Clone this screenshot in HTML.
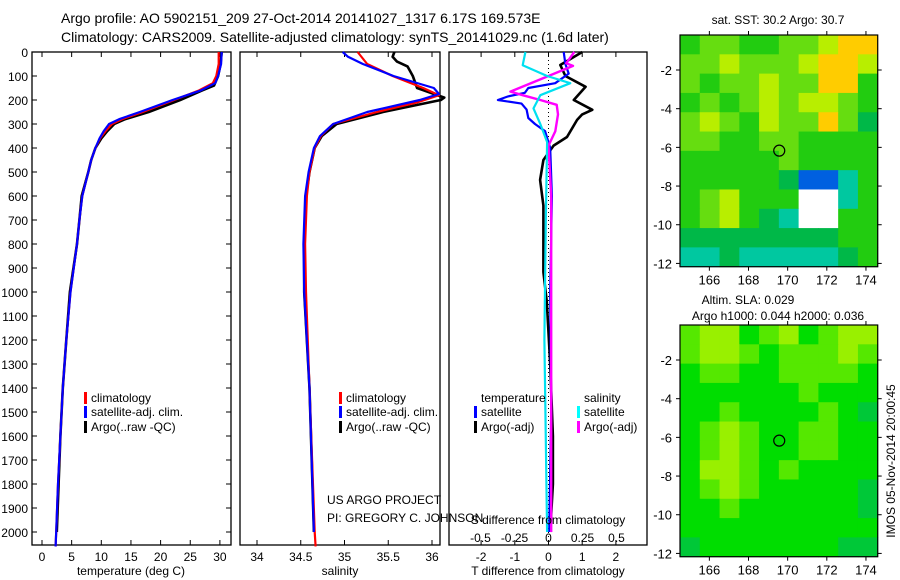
<!DOCTYPE html>
<html><head><meta charset="utf-8">
<style>
html,body{margin:0;padding:0;background:#fff;}
svg{display:block;font-family:"Liberation Sans",sans-serif;}
</style></head>
<body>
<svg id="fig" width="900" height="580" viewBox="0 0 900 580" xmlns="http://www.w3.org/2000/svg">
<text x="61" y="23" font-size="14">Argo profile: AO 5902151_209 27-Oct-2014 20141027_1317 6.17S 169.573E</text>
<text x="61" y="42" font-size="14">Climatology: CARS2009. Satellite-adjusted climatology: synTS_20141029.nc (1.6d later)</text>
<g id="g"></g>
</svg>
<script>
// ---------- data ----------
const tDepth=[0,50,100,140,160,200,250,280,300,330,360,400,450,500,600,700,800,1000,1200,1400,1600,1800,2000];
const tArgo=[30.3,30.1,29.7,29.0,27.0,23.3,18.0,14.0,12.2,11.0,10.0,9.0,8.3,7.8,6.7,6.3,5.9,4.7,4.1,3.5,3.1,2.8,2.5];
const clDepth=[0,50,100,130,160,200,250,280,300,330,360,400,450,500,600,700,800,1000,1200,1400,1600,1800,2000,2060];
const tClim=[29.8,29.8,29.4,28.8,26.5,22.3,17.0,13.5,11.8,10.7,9.8,9.0,8.3,7.8,6.8,6.3,5.9,4.8,4.1,3.5,3.1,2.7,2.4,2.3];
const tSat=[30.3,30.2,29.7,29.2,26.8,22.0,16.5,13.0,11.3,10.4,9.7,9.0,8.3,7.8,6.8,6.3,5.9,4.8,4.1,3.5,3.1,2.7,2.4,2.3];
const sArgoDepth=[0,20,40,60,100,150,190,200,250,300,350,400,500,600,800,1000,1400,2000];
const sArgo=[35.57,35.55,35.6,35.72,35.78,35.83,36.14,36.1,35.44,34.91,34.74,34.66,34.6,34.56,34.54,34.54,34.6,34.65];
const sClimDepth=[0,50,100,150,180,210,250,300,350,400,500,600,800,1000,1400,2000,2060];
const sClim=[35.15,35.26,35.55,35.9,36.08,35.83,35.37,34.87,34.73,34.66,34.6,34.57,34.55,34.56,34.6,34.66,34.67];
const sSatDepth=[0,20,50,100,150,175,200,250,300,350,400,500,600,800,1000,1400,2000];
const sSat=[34.98,35.04,35.21,35.56,36.02,36.08,35.86,35.26,34.87,34.72,34.65,34.59,34.55,34.53,34.54,34.6,34.65];
const dTSatDepth=[0,50,90,130,150,170,185,200,215,240,275,300,330,400,600,1000,1500,2000];
const dTSat=[0.45,0.5,0.6,0.2,-0.6,-0.7,-1.2,-1.5,-0.8,-0.65,-0.6,-0.4,-0.1,0.05,0.1,0.05,0.08,0.02];
const dTArgoDepth=[0,54,100,145,200,241,260,283,354,390,450,533,640,917,1040,1300,1600,1800,2000];
const dTArgo=[1.0,0.35,0.5,1.1,0.75,1.3,1.0,0.85,0.55,0.15,-0.15,-0.25,-0.15,-0.15,-0.05,0.05,0.13,0.13,0.05];
const dSArgoDepth=[0,47,58,100,165,180,200,220,260,330,390,600,1000,1500,2000];
const dSArgo=[0.19,0.13,0.18,0.0,-0.28,-0.19,-0.06,0.06,0.07,0.05,0.0,0.02,0.02,0.02,0.02];
const dSSatDepth=[0,55,100,130,180,235,300,375,700,1200,2000];
const dSSat=[-0.17,-0.19,-0.01,0.16,-0.06,-0.11,-0.06,-0.01,-0.02,-0.03,-0.01];
const depthTicks=[0,100,200,300,400,500,600,700,800,900,1000,1100,1200,1300,1400,1500,1600,1700,1800,1900,2000];
const tTicks=[0,5,10,15,20,25,30];
const sTicks=[34,34.5,35,35.5,36];
const sTickLabels=["34","34.5","35","35.5","36"];
const dTTicks=[-2,-1,0,1,2];
const dSTicks=[-0.5,-0.25,0,0.25,0.5];
const dSTickLabels=["-0.5","-0.25","0","0.25","0.5"];
const lonTicks=[166,168,170,172,174];
const latTicks=[-2,-4,-6,-8,-10,-12];
const argoLon=169.57, argoLat=-6.17;
const sstGrid=[
[1,2,2,1,1,2,2,3,4,4],[2,2,3,2,2,2,3,4,4,3],[2,1,2,2,3,2,2,4,4,1],[1,2,1,2,3,2,3,3,2,1],
[2,3,2,1,3,2,2,4,2,0],[2,2,1,1,2,2,1,1,1,1],[1,1,1,1,1,2,1,1,1,1],[1,1,1,1,1,0,7,7,5,1],
[1,2,3,1,1,1,8,8,5,1],[1,2,3,1,0,5,8,8,1,1],[0,0,0,0,0,0,0,0,1,1],[5,5,0,5,5,5,5,5,0,1]];
const slaGrid=[
[2,3,3,1,2,3,1,2,3,3],[2,3,3,2,1,2,2,2,3,2],[1,2,2,1,1,2,2,2,2,1],[1,1,1,1,1,1,2,1,1,1],
[1,1,2,1,1,1,1,2,1,0],[1,2,3,2,1,1,2,2,1,1],[1,2,3,2,1,1,2,2,1,1],[1,3,3,2,1,2,1,1,1,1],
[1,2,3,2,1,1,1,1,1,0],[1,1,2,1,1,1,1,1,1,0],[1,1,1,1,1,1,1,1,1,1],[0,1,1,1,1,1,1,1,0,0]];
const sstColors=["#00b848","#22cc10","#66dd10","#b8ee00","#ffcc00","#00c8a0","#00d0d0","#0060e0","#ffffff"];
const slaColors=["#00c838","#00dd00","#55e800","#99f000","#c8ff00"];

// ---------- helpers ----------
const NS="http://www.w3.org/2000/svg";
const G=document.getElementById('g');
function el(tag,attrs,parent){const e=document.createElementNS(NS,tag);for(const k in attrs)e.setAttribute(k,attrs[k]);(parent||G).appendChild(e);return e;}
function txt(x,y,s,anchor,size,parent){const t=el('text',{x:x,y:y,'font-size':size||12,'text-anchor':anchor||'start'},parent);t.textContent=s;return t;}
const yTop=52, pxPerM=0.24;
function yD(d){return yTop+d*pxPerM;}
const yBot=545;
const P1={l:32,r:231}, P2={l:240,r:440}, P3={l:449,r:647};
function xT(v){return 42+v*5.93;}
function xS(v){return 257+(v-34)*87.5;}
function xDT(v){return 548.5+v*33.7;}
function xDS(v){return 548.5+v*136;}
function line(xs,ds,fx,color,name,w){
  const pts=xs.map((v,i)=>fx(v).toFixed(1)+','+yD(ds[i]).toFixed(1)).join(' ');
  const p=el('polyline',{points:pts,fill:'none',stroke:color,'stroke-width':w||2.2,'stroke-linejoin':'round'});
  
  
}
function frame(P,name){
  const r=el('rect',{x:P.l,y:yTop,width:P.r-P.l,height:yBot-yTop,fill:'none',stroke:'#000','stroke-width':1.3});
  
  
}
function xticks(P,vals,labels,fx,ly){
  vals.forEach((v,i)=>{const x=fx(v);
    el('line',{x1:x,x2:x,y1:yTop,y2:yTop+5,stroke:'#000'});
    el('line',{x1:x,x2:x,y1:yBot,y2:yBot-5,stroke:'#000'});
    const t=txt(x,ly,labels[i],'middle',12);
    
    
  });
}
function legendEntry(x,y,color,label){
  el('rect',{x:x,y:y-10,width:3,height:12,fill:color});
  const t=txt(x+7,y,label,'start',12);
  
  
}

// ---------- panel 1: temperature ----------
frame(P1,'temperature-panel');
depthTicks.forEach(d=>{const y=yD(d);
  el('line',{x1:P1.l,x2:P1.l+5,y1:y,y2:y,stroke:'#000'});
  el('line',{x1:P1.r,x2:P1.r-5,y1:y,y2:y,stroke:'#000'});
  const t=txt(28,y+5,String(d),'end',12);
  
  
});
xticks(P1,tTicks,tTicks.map(String),xT,561);
line(tArgo,tDepth,xT,'#000','argo-temperature-line',2.6);
line(tClim,clDepth,xT,'#ff0000','climatology-temperature-line');
line(tSat,clDepth,xT,'#0000ff','satellite-temperature-line');
legendEntry(84,402,'#ff0000','climatology');
legendEntry(84,416,'#0000ff','satellite-adj. clim.');
legendEntry(84,431,'#000','Argo(..raw -QC)');
txt(131,575,'temperature (deg C)','middle',12);

// ---------- panel 2: salinity ----------
frame(P2,'salinity-panel');
xticks(P2,sTicks,sTickLabels,xS,561);
line(sArgo,sArgoDepth,xS,'#000','argo-salinity-line',2.6);
line(sClim,sClimDepth,xS,'#ff0000','climatology-salinity-line');
line(sSat,sSatDepth,xS,'#0000ff','satellite-salinity-line');
legendEntry(339,402,'#ff0000','climatology');
legendEntry(339,416,'#0000ff','satellite-adj. clim.');
legendEntry(339,431,'#000','Argo(..raw -QC)');
txt(340,575,'salinity','middle',12);
txt(327,504,'US ARGO PROJECT','start',12);
txt(327,522,'PI: GREGORY C. JOHNSON','start',12);

// ---------- panel 3: differences ----------
frame(P3,'difference-panel');
el('line',{x1:xDT(0),x2:xDT(0),y1:yTop,y2:yBot,stroke:'#000','stroke-dasharray':'1,3'});
dTTicks.forEach(v=>{const x=xDT(v);
  el('line',{x1:x,x2:x,y1:yTop,y2:yTop+5,stroke:'#000'});
  el('line',{x1:x,x2:x,y1:yBot,y2:yBot-5,stroke:'#000'});
  const t=txt(x,561,String(v),'middle',12);
  
  
});
dSTicks.forEach((v,i)=>{const t=txt(xDS(v),542,dSTickLabels[i],'middle',12);
  
  
});
line(dTArgo,dTArgoDepth,xDT,'#000','argo-t-diff-line',2.6);
line(dTSat,dTSatDepth,xDT,'#0000ff','satellite-t-diff-line');
line(dSArgo,dSArgoDepth,xDS,'#ff00ff','argo-s-diff-line',2.4);
line(dSSat,dSSatDepth,xDS,'#00e0f0','satellite-s-diff-line');
txt(481,402,'temperature','start',12);
txt(584,402,'salinity','start',12);
legendEntry(474,416,'#0000ff','satellite');
legendEntry(474,431,'#000','Argo(-adj)');
legendEntry(577,416,'#00ffff','satellite');
legendEntry(577,431,'#ff00ff','Argo(-adj)');
txt(548,524,'S difference from climatology','middle',12);
txt(548,575,'T difference from climatology','middle',12);

// ---------- maps ----------
const mapL=680,mapR=877.7,lonL=164.5,lonR=174.6,latT=-0.19,latB=-12.17;
function mx(lon){return mapL+(lon-lonL)*(mapR-mapL)/(lonR-lonL);}
function drawMap(top,bottom,grid,colors,name){
  const my=lat=>top+(latT-lat)*(bottom-top)/(latT-latB);
  const g=el('g',{});
  
  
  const rows=grid.length, cols=grid[0].length;
  const cw=(mapR-mapL)/cols, ch=(bottom-top)/rows;
  grid.forEach((row,r)=>row.forEach((c,k)=>{
    el('rect',{x:mapL+k*cw,y:top+r*ch,width:cw+0.5,height:ch+0.5,fill:colors[c]},g);
  }));
  el('rect',{x:mapL,y:top,width:mapR-mapL,height:bottom-top,fill:'none',stroke:'#000','stroke-width':1.2},g);
  lonTicks.forEach(v=>{const x=mx(v);
    el('line',{x1:x,x2:x,y1:top-4,y2:top,stroke:'#000'},g);
    el('line',{x1:x,x2:x,y1:bottom,y2:bottom+4,stroke:'#000'},g);
    txt(x,bottom+18,String(v),'middle',13,g);
  });
  latTicks.forEach(v=>{const y=my(v);
    el('line',{x1:mapL-4,x2:mapL,y1:y,y2:y,stroke:'#000'},g);
    el('line',{x1:mapR,x2:mapR+4,y1:y,y2:y,stroke:'#000'},g);
    txt(mapL-8,y+5,String(v),'end',13,g);
  });
  const c=el('circle',{cx:mx(argoLon),cy:my(argoLat),r:5.5,fill:'none',stroke:'#000','stroke-width':1.2},g);
  
  
}
drawMap(35,266.7,sstGrid,sstColors,'sst-map');
drawMap(325,556.7,slaGrid,slaColors,'sla-map');
txt(778,24,'sat. SST: 30.2 Argo: 30.7','middle',12);
txt(748,304,'Altim. SLA: 0.029','middle',12);
txt(778,320,'Argo h1000: 0.044 h2000: 0.036','middle',12);
const ts=txt(0,0,'IMOS 05-Nov-2014 20:00:45','middle',12);
ts.setAttribute('transform','translate(895,461) rotate(-90)');


</script>
</body></html>
